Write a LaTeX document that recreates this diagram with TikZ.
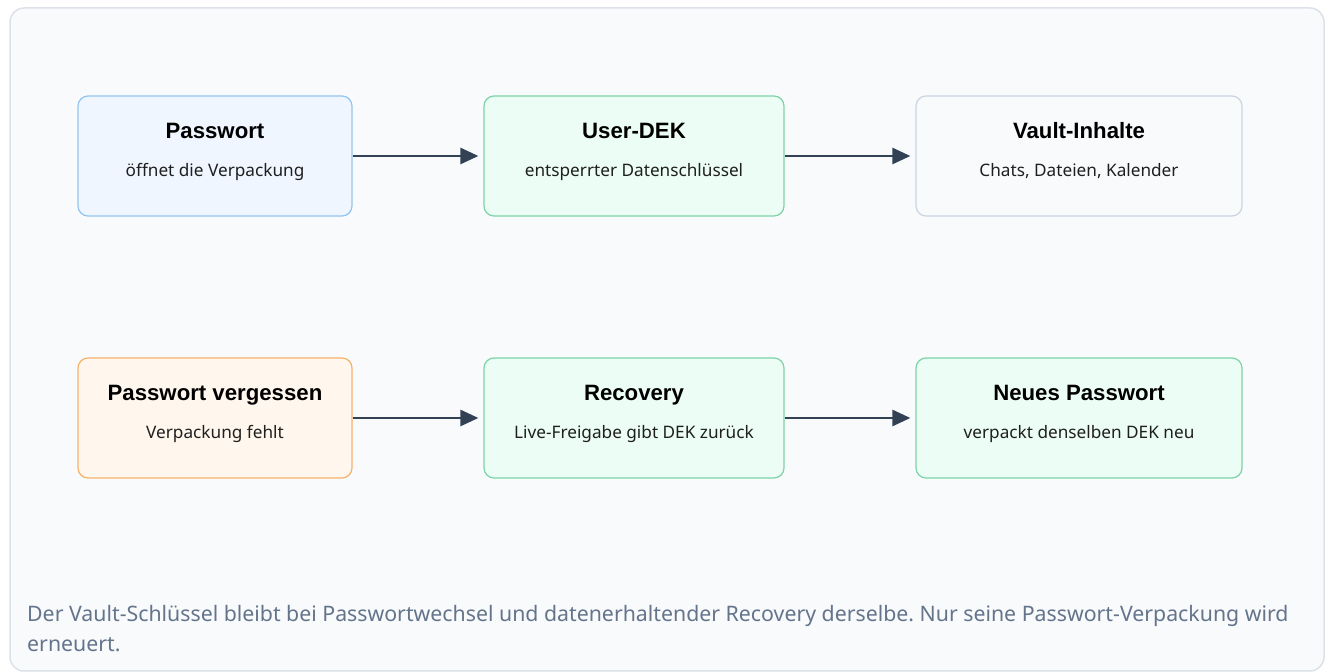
\documentclass[tikz,border=0pt]{standalone}
\usepackage{fontspec}
\setmainfont{Noto Sans}
\newfontfamily\headfont{Liberation Sans}
\frenchspacing
\usetikzlibrary{arrows.meta}
\definecolor{framebg}{HTML}{F8FAFC}
\definecolor{frameline}{HTML}{DDE2EA}
\definecolor{bluefill}{HTML}{EFF6FF}
\definecolor{blueline}{HTML}{93C5F0}
\definecolor{greenfill}{HTML}{ECFDF5}
\definecolor{greenline}{HTML}{7DD3A8}
\definecolor{grayfill}{HTML}{F8FAFC}
\definecolor{grayline}{HTML}{CBD5E1}
\definecolor{orangefill}{HTML}{FFF7ED}
\definecolor{orangeline}{HTML}{F5B26B}
\definecolor{arrowcol}{HTML}{334155}
\definecolor{notecol}{HTML}{64748B}
\tikzset{
  x=1pt, y=1pt,
  card/.style={draw, line width=1.2pt, rounded corners=10pt, minimum height=120pt, inner sep=0pt},
  bluecard/.style={card, fill=bluefill, draw=blueline},
  greencard/.style={card, fill=greenfill, draw=greenline},
  graycard/.style={card, fill=grayfill, draw=grayline},
  orangecard/.style={card, fill=orangefill, draw=orangeline},
  cardtitle/.style={inner sep=0pt, anchor=base, font=\headfont\fontsize{22.2}{26}\selectfont\bfseries, text=black},
  cardsub/.style={inner sep=0pt, anchor=base, font=\fontsize{17.2}{20}\selectfont, text=black!88},
  flow/.style={draw=arrowcol, line width=2.6pt, shorten >=5pt,
    -{Triangle[length=18pt, width=16pt]}},
  note/.style={inner sep=0pt, anchor=base west, font=\fontsize{21.3}{25}\selectfont, text=notecol},
}
\begin{document}
\begin{tikzpicture}
\useasboundingbox (0,0) rectangle (1326,672);
\fill[white] (0,0) rectangle (1326,672);
% outer panel
\draw[fill=framebg, draw=frameline, line width=1.5pt, rounded corners=14pt] (10,1) rectangle (1324,664);

% top row: normal unlock path
\node[bluecard, minimum width=274pt] (pw) at (215,516) {};
\node[greencard, minimum width=300pt] (dek) at (634,516) {};
\node[graycard, minimum width=326pt] (vault) at (1079,516) {};
% bottom row: recovery path
\node[orangecard, minimum width=274pt] (lost) at (215,254) {};
\node[greencard, minimum width=300pt] (rec) at (634,254) {};
\node[greencard, minimum width=326pt] (newpw) at (1079,254) {};

% card texts
\node[cardtitle] (pwT) at ([yshift=17pt]pw.center) {Passwort};
\node[cardsub] (pwS) at ([yshift=-21pt]pw.center) {öffnet die Verpackung};
\node[cardtitle] (dekT) at ([yshift=17pt]dek.center) {User-DEK};
\node[cardsub] (dekS) at ([yshift=-21pt]dek.center) {entsperrter Datenschlüssel};
\node[cardtitle] (vaultT) at ([yshift=17pt]vault.center) {Vault-Inhalte};
\node[cardsub] (vaultS) at ([yshift=-21pt]vault.center) {Chats, Dateien, Kalender};
\node[cardtitle] (lostT) at ([yshift=17pt]lost.center) {Passwort vergessen};
\node[cardsub] (lostS) at ([yshift=-21pt]lost.center) {Verpackung fehlt};
\node[cardtitle] (recT) at ([yshift=17pt]rec.center) {Recovery};
\node[cardsub] (recS) at ([yshift=-21pt]rec.center) {Live-Freigabe gibt DEK zurück};
\node[cardtitle] (newpwT) at ([yshift=17pt]newpw.center) {Neues Passwort};
\node[cardsub] (newpwS) at ([yshift=-21pt]newpw.center) {verpackt denselben DEK neu};

% connectors
\draw[flow] (pw.east) -- (dek.west);
\draw[flow] (dek.east) -- (vault.west);
\draw[flow] (lost.east) -- (rec.west);
\draw[flow] (rec.east) -- (newpw.west);

% footnote
\node[note] (note1) at (27,50) {Der Vault-Schlüssel bleibt bei Passwortwechsel und datenerhaltender Recovery derselbe. Nur seine Passwort-Verpackung wird};
\node[note] (note2) at (27,20) {erneuert.};
\end{tikzpicture}
\end{document}
